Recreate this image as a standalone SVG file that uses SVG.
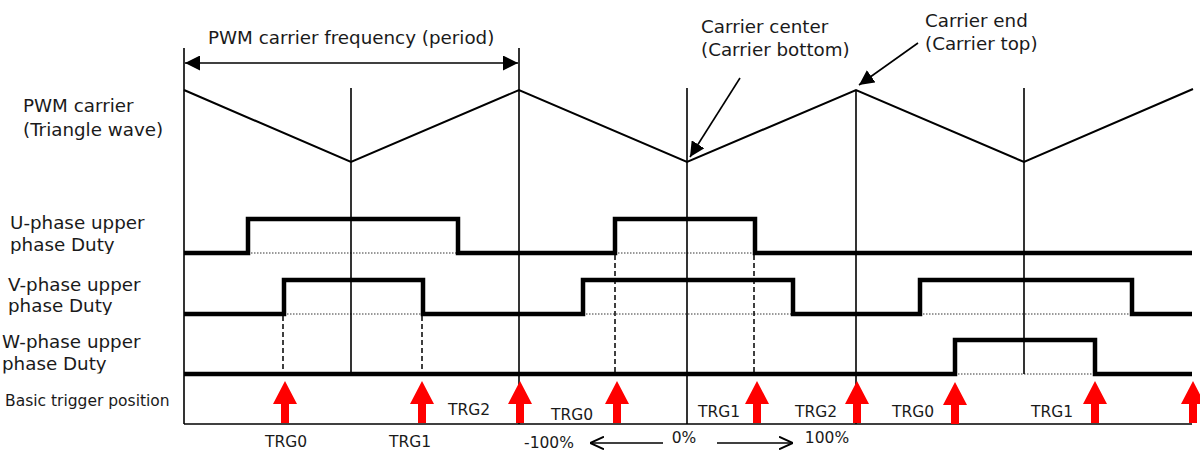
<svg xmlns="http://www.w3.org/2000/svg" width="1200" height="453" viewBox="0 0 1200 453">
<style>
text{font-family:"DejaVu Sans","Liberation Sans",sans-serif;fill:#1a1a1a}
.lbl{font-size:18.3px}
.trg{font-size:15.5px;text-anchor:middle}
.sm{font-size:15.5px}
.thin{stroke:#000;stroke-width:1.6;fill:none}
.car{stroke:#000;stroke-width:2;fill:none}
.wave{stroke:#000;stroke-width:4.5;fill:none;stroke-linejoin:miter}
.dot{stroke:#000;stroke-width:0.8;stroke-dasharray:1.5 1.5;fill:none}
.dash{stroke:#000;stroke-width:1.5;stroke-dasharray:5 3;fill:none}
.red{fill:#ff0000}
</style>
<defs>
<marker id="ah" viewBox="0 0 10 10" refX="10" refY="5" markerWidth="15" markerHeight="15" markerUnits="userSpaceOnUse" orient="auto-start-reverse"><path d="M0,0 L10,5 L0,10 Z" fill="#000"/></marker>
<marker id="oh" viewBox="0 0 10 10" refX="10" refY="5" markerWidth="14" markerHeight="14" markerUnits="userSpaceOnUse" orient="auto-start-reverse"><path d="M0,0.5 L10,5 L0,9.5" fill="none" stroke="#000" stroke-width="1.4"/></marker>
<path id="ra" d="M0,0 L12,23 L4,23 L4,42 L-4,42 L-4,23 L-12,23 Z"/>
<clipPath id="cu"><rect x="0" y="200" width="180" height="54"/></clipPath>
<clipPath id="cv"><rect x="0" y="260" width="180" height="55"/></clipPath>
<clipPath id="cw"><rect x="0" y="320" width="180" height="53.5"/></clipPath>
</defs>
<rect width="1200" height="453" fill="#fff"/>

<g id="labels">
<text class="lbl" x="23" y="112">PWM carrier</text>
<text class="lbl" x="23" y="136">(Triangle wave)</text>
<g clip-path="url(#cu)"><text class="lbl" x="10" y="229">U-phase upper</text><text class="lbl" x="10" y="251">phase Duty</text></g>
<g clip-path="url(#cv)"><text class="lbl" x="8" y="291">V-phase upper</text><text class="lbl" x="8" y="312">phase Duty</text></g>
<g clip-path="url(#cw)"><text class="lbl" x="2" y="348">W-phase upper</text><text class="lbl" x="2" y="370">phase Duty</text></g>
<text class="sm" x="5" y="406">Basic trigger position</text>
</g>

<g id="grid">
<line class="thin" x1="184" y1="48" x2="184" y2="424"/>
<line class="thin" x1="351" y1="88" x2="351" y2="374"/>
<line class="thin" x1="519" y1="48" x2="519" y2="424"/>
<line class="thin" x1="687" y1="88" x2="687" y2="424"/>
<line class="thin" x1="856" y1="90" x2="856" y2="424"/>
<line class="thin" x1="1024" y1="88" x2="1024" y2="374"/>
<line class="thin" x1="184" y1="424" x2="1192" y2="424" stroke="#555"/>
</g>

<g id="period">
<line class="thin" x1="185" y1="63" x2="518" y2="63" marker-start="url(#ah)" marker-end="url(#ah)"/>
<text class="lbl" x="208" y="44">PWM carrier frequency (period)</text>
</g>

<g id="carrier">
<polyline class="car" points="184,90 351,162 519,90 687,162 856,90 1024,162 1193,89"/>
</g>

<g id="callouts">
<text class="lbl" x="701" y="33">Carrier center</text>
<text class="lbl" x="701" y="56">(Carrier bottom)</text>
<line class="thin" x1="740" y1="78" x2="690" y2="157" marker-end="url(#ah)"/>
<text class="lbl" x="925" y="27">Carrier end</text>
<text class="lbl" x="925" y="50">(Carrier top)</text>
<line class="thin" x1="918" y1="43" x2="859" y2="85" marker-end="url(#ah)"/>
</g>

<g id="u-phase">
<line class="dot" x1="248" y1="253" x2="458" y2="253"/>
<line class="dot" x1="615" y1="253" x2="755" y2="253"/>
<polyline class="wave" points="184,253 248,253 248,219 458,219 458,253 615,253 615,219 755,219 755,253 1192,253"/>
</g>
<g id="v-phase">
<line class="dot" x1="284" y1="314" x2="423" y2="314"/>
<line class="dot" x1="583" y1="314" x2="793" y2="314"/>
<line class="dot" x1="920" y1="314" x2="1132" y2="314"/>
<polyline class="wave" points="184,314 284,314 284,280 423,280 423,314 583,314 583,280 793,280 793,314 920,314 920,280 1132,280 1132,314 1192,314"/>
</g>
<g id="w-phase">
<line class="dot" x1="955" y1="374" x2="1095" y2="374"/>
<polyline class="wave" points="184,374 955,374 955,340 1095,340 1095,374 1192,374"/>
</g>

<g id="dashes">
<line class="dash" x1="283" y1="316" x2="283" y2="374"/>
<line class="dash" x1="422" y1="316" x2="422" y2="374"/>
<line class="dash" x1="615" y1="255" x2="615" y2="374"/>
<line class="dash" x1="754" y1="255" x2="754" y2="374"/>
</g>

<g id="triggers" class="red">
<use href="#ra" x="285" y="381"/>
<use href="#ra" x="422" y="381"/>
<use href="#ra" x="520" y="381"/>
<use href="#ra" x="617" y="381"/>
<use href="#ra" x="757" y="381"/>
<use href="#ra" x="857" y="381"/>
<use href="#ra" x="955" y="382"/>
<use href="#ra" x="1095" y="381"/>
<use href="#ra" x="1193" y="381"/>
</g>

<g id="trg-labels">
<text class="trg" x="286" y="447">TRG0</text>
<text class="trg" x="410" y="447">TRG1</text>
<text class="trg" x="469" y="415">TRG2</text>
<text class="trg" x="572" y="420">TRG0</text>
<text class="trg" x="719" y="417">TRG1</text>
<text class="trg" x="816" y="417">TRG2</text>
<text class="trg" x="913" y="417">TRG0</text>
<text class="trg" x="1052" y="417">TRG1</text>
</g>

<g id="range">
<text class="trg" x="549" y="448">-100%</text>
<text class="trg" x="684" y="443">0%</text>
<text class="trg" x="827" y="443">100%</text>
<line class="thin" x1="590" y1="443" x2="663" y2="443" marker-start="url(#oh)"/>
<line class="thin" x1="717" y1="443" x2="793" y2="443" marker-end="url(#oh)"/>
</g>
</svg>
